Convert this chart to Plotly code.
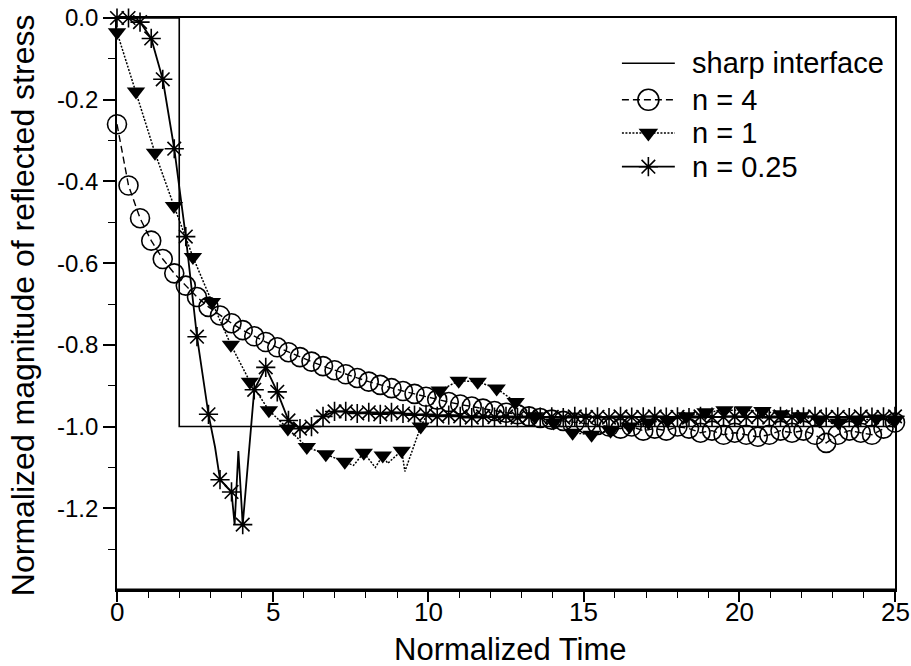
import plotly.graph_objects as go

# ---------------- data ----------------
sharp_t = [0, 2, 2, 25]
sharp_v = [0.0, 0.0, -1.0, -1.0]

t_fine = [0, 0.37, 0.74, 1.10, 1.47, 1.84, 2.21, 2.57, 2.94, 3.31, 3.68, 4.04, 4.41, 4.78,
          5.15, 5.51, 5.88, 6.25, 6.62, 6.99, 7.35, 7.72, 8.09, 8.46, 8.82, 9.19, 9.56, 9.93,
          10.29, 10.66, 11.03, 11.40, 11.76, 12.13, 12.50, 12.87, 13.24, 13.60, 13.97, 14.34,
          14.71, 15.07, 15.44, 15.81, 16.18, 16.54, 16.91, 17.28, 17.65, 18.01, 18.38, 18.75,
          19.12, 19.49, 19.85, 20.22, 20.59, 20.96, 21.32, 21.69, 22.06, 22.43, 22.79, 23.16,
          23.53, 23.90, 24.26, 24.63, 25.00]

n4_v = [-0.26, -0.41, -0.49, -0.545, -0.59, -0.625, -0.655, -0.683, -0.707, -0.728, -0.747,
        -0.764, -0.779, -0.793, -0.806, -0.818, -0.83, -0.841, -0.852, -0.862, -0.872, -0.881,
        -0.89, -0.898, -0.906, -0.913, -0.92, -0.927, -0.934, -0.94, -0.946, -0.951, -0.956,
        -0.962, -0.966, -0.97, -0.975, -0.979, -0.983, -0.986, -0.99, -0.993, -0.996, -1.0,
        -1.005, -1.0, -1.01, -1.005, -1.01, -1.0, -1.005, -1.015, -1.01, -1.02, -1.015, -1.02,
        -1.025, -1.02, -1.01, -1.015, -1.01, -1.02, -1.04, -1.02, -1.01, -1.015, -1.02, -1.005,
        -0.99]

n025_v = [0.0, 0.0, -0.01, -0.05, -0.15, -0.32, -0.535, -0.78, -0.97, -1.13, -1.16, -1.24,
          -0.91, -0.855, -0.915, -0.985, -1.005, -1.0, -0.975, -0.963, -0.963, -0.968, -0.965,
          -0.97, -0.965, -0.968, -0.972, -0.97, -0.975, -0.972, -0.975, -0.978, -0.975, -0.977,
          -0.975, -0.978, -0.975, -0.977, -0.976, -0.978, -0.975, -0.977, -0.976, -0.978,
          -0.975, -0.977, -0.976, -0.975, -0.977, -0.976, -0.978, -0.975, -0.977, -0.976,
          -0.975, -0.977, -0.976, -0.978, -0.975, -0.977, -0.976, -0.975, -0.977, -0.976,
          -0.978, -0.975, -0.977, -0.976, -0.975]
# extra line vertices (between markers) for n = 0.25
n025_extra_t = [3.15, 3.78, 3.90]
n025_extra_v = [-1.05, -1.24, -1.06]

t_coarse = [0, 0.61, 1.22, 1.83, 2.44, 3.05, 3.66, 4.27, 4.88, 5.49, 6.10, 6.71, 7.32, 7.93,
            8.54, 9.15, 9.76, 10.37, 10.98, 11.59, 12.20, 12.81, 13.42, 14.03, 14.64, 15.25,
            15.86, 16.47, 17.08, 17.69, 18.30, 18.91, 19.52, 20.13, 20.74, 21.35, 21.96, 22.57,
            23.18, 23.79, 24.40, 25.0]
n1_v = [-0.035, -0.18, -0.33, -0.46, -0.585, -0.695, -0.80, -0.89, -0.96, -1.005, -1.05,
        -1.068, -1.086, -1.064, -1.071, -1.059, -1.0, -0.912, -0.888, -0.89, -0.907, -0.94,
        -0.975, -0.99, -1.015, -1.02, -1.01, -1.0, -0.99, -0.985, -0.975, -0.965, -0.96, -0.96,
        -0.962, -0.97, -0.975, -0.985, -0.99, -0.985, -0.98, -0.985]
# extra line vertices (between markers) for n = 1
n1_extra_t = [7.60, 8.30, 8.70, 8.87, 9.25]
n1_extra_v = [-1.095, -1.10, -1.09, -1.078, -1.11]

y_tick_vals = [0.0, -0.2, -0.4, -0.6, -0.8, -1.0, -1.2]
y_tick_text = ["0.0", "-0.2", "-0.4", "-0.6", "-0.8", "-1.0", "-1.2"]
x_tick_vals = [0, 5, 10, 15, 20, 25]
x_tick_text = ["0", "5", "10", "15", "20", "25"]

legend_labels = ["sharp interface", "n = 4", "n = 1", "n = 0.25"]

# ---------------- figure ----------------
def merged(t, v, et, ev):
    pts = sorted(list(zip(t, v)) + list(zip(et, ev)), key=lambda p: p[0])
    return [p[0] for p in pts], [p[1] for p in pts]

BLACK = "black"
FONT = "Liberation Sans, Arial, sans-serif"
fig = go.Figure()

# sharp interface
fig.add_trace(go.Scatter(x=sharp_t, y=sharp_v, mode="lines",
                         line=dict(color=BLACK, width=1.6), showlegend=False,
                         cliponaxis=False))

# n = 4
fig.add_trace(go.Scatter(x=t_fine, y=n4_v, mode="lines+markers",
                         line=dict(color=BLACK, width=1.4, dash="7px,4px"),
                         marker=dict(symbol="circle-open", size=19, color=BLACK,
                                     line=dict(width=1.6, color=BLACK)),
                         showlegend=False, cliponaxis=False))

# n = 1 : dotted line through all vertices, markers on the coarse grid
lx, ly = merged(t_coarse, n1_v, n1_extra_t, n1_extra_v)
fig.add_trace(go.Scatter(x=lx, y=ly, mode="lines",
                         line=dict(color=BLACK, width=1.5, dash="2px,1.5px"),
                         showlegend=False, cliponaxis=False))
fig.add_trace(go.Scatter(x=t_coarse, y=n1_v, mode="markers",
                         marker=dict(symbol="triangle-down", size=16, color=BLACK),
                         showlegend=False, cliponaxis=False))

# n = 0.25
lx, ly = merged(t_fine, n025_v, n025_extra_t, n025_extra_v)
fig.add_trace(go.Scatter(x=lx, y=ly, mode="lines",
                         line=dict(color=BLACK, width=1.8),
                         showlegend=False, cliponaxis=False))
fig.add_trace(go.Scatter(x=t_fine, y=n025_v, mode="markers",
                         marker=dict(symbol="asterisk-open", size=16, color=BLACK,
                                     line=dict(width=1.6, color=BLACK)),
                         showlegend=False, cliponaxis=False))

# ---------------- legend (drawn on an overlay axis) ----------------
leg_rows = [0.921, 0.857, 0.799, 0.740]
leg_x0, leg_x1, leg_xm = 0.649, 0.717, 0.683
leg_styles = [
    (dict(color=BLACK, width=1.6), None),
    (dict(color=BLACK, width=1.4, dash="7px,4px"),
     dict(symbol="circle-open", size=21, color=BLACK, line=dict(width=1.6, color=BLACK))),
    (dict(color=BLACK, width=1.5, dash="2px,1.5px"),
     dict(symbol="triangle-down", size=17, color=BLACK)),
    (dict(color=BLACK, width=1.8),
     dict(symbol="asterisk-open", size=16, color=BLACK, line=dict(width=1.6, color=BLACK))),
]
for r, (ln, mk), lab in zip(leg_rows, leg_styles, legend_labels):
    fig.add_trace(go.Scatter(x=[leg_x0, leg_x1], y=[r, r], mode="lines", line=ln,
                             xaxis="x2", yaxis="y2", showlegend=False, hoverinfo="skip"))
    if mk is not None:
        fig.add_trace(go.Scatter(x=[leg_xm], y=[r], mode="markers", marker=mk,
                                 xaxis="x2", yaxis="y2", showlegend=False, hoverinfo="skip"))
    fig.add_annotation(x=0.736, y=r, xref="paper", yref="paper", text=lab,
                       showarrow=False, xanchor="left", yanchor="middle",
                       font=dict(family=FONT, size=29, color=BLACK))

# x tick labels (placed close under the ticks, as in the original)
for tv, tt in zip(x_tick_vals, x_tick_text):
    fig.add_annotation(x=tv, y=0.0, xref="x", yref="paper", yshift=-22, text=tt,
                       showarrow=False, xanchor="center", yanchor="middle",
                       font=dict(family=FONT, size=26, color=BLACK))

# axis titles
fig.add_annotation(x=0.506, y=0.0, xref="paper", yref="paper", yshift=-59,
                   text="Normalized Time", showarrow=False, xanchor="center", yanchor="middle",
                   font=dict(family=FONT, size=31, color=BLACK))
fig.add_annotation(x=0.0, y=0.498, xref="paper", yref="paper", xshift=-94,
                   text="Normalized magnitude of reflected stress", showarrow=False,
                   textangle=-90, xanchor="center", yanchor="middle",
                   font=dict(family=FONT, size=32, color=BLACK))

# thicker bottom axis line
fig.add_shape(type="line", xref="paper", yref="paper", x0=0, x1=1, y0=0, y1=0,
              line=dict(color=BLACK, width=3))

fig.update_layout(
    width=911, height=666,
    margin=dict(l=117, r=16, t=18, b=76, autoexpand=False),
    paper_bgcolor="white", plot_bgcolor="white",
    showlegend=False,
    xaxis=dict(range=[0, 25], tickmode="array", tickvals=x_tick_vals,
               showticklabels=False,
               ticks="outside", ticklen=10, tickwidth=1.5, tickcolor=BLACK,
               showline=True, linecolor=BLACK, linewidth=1.6, mirror=True,
               showgrid=False, zeroline=False,
               minor=dict(dtick=1, ticks="outside", ticklen=6, tickwidth=1.2,
                          tickcolor=BLACK, showgrid=False)),
    yaxis=dict(range=[-1.4, 0.0], tickmode="array", tickvals=y_tick_vals,
               ticktext=y_tick_text,
               ticks="outside", ticklen=12, tickwidth=1.5, tickcolor=BLACK,
               showline=True, linecolor=BLACK, linewidth=1.6, mirror=True,
               showgrid=False, zeroline=False,
               minor=dict(tickvals=[-0.1, -0.3, -0.5, -0.7, -0.9, -1.1, -1.3],
                          ticks="outside", ticklen=7, tickwidth=1.2, tickcolor=BLACK,
                          showgrid=False),
               tickfont=dict(family=FONT, size=24, color=BLACK)),
    xaxis2=dict(overlaying="x", range=[0, 1], visible=False, anchor="y2"),
    yaxis2=dict(overlaying="y", range=[0, 1], visible=False, anchor="x2"),
)

fig.write_html("out.html")
